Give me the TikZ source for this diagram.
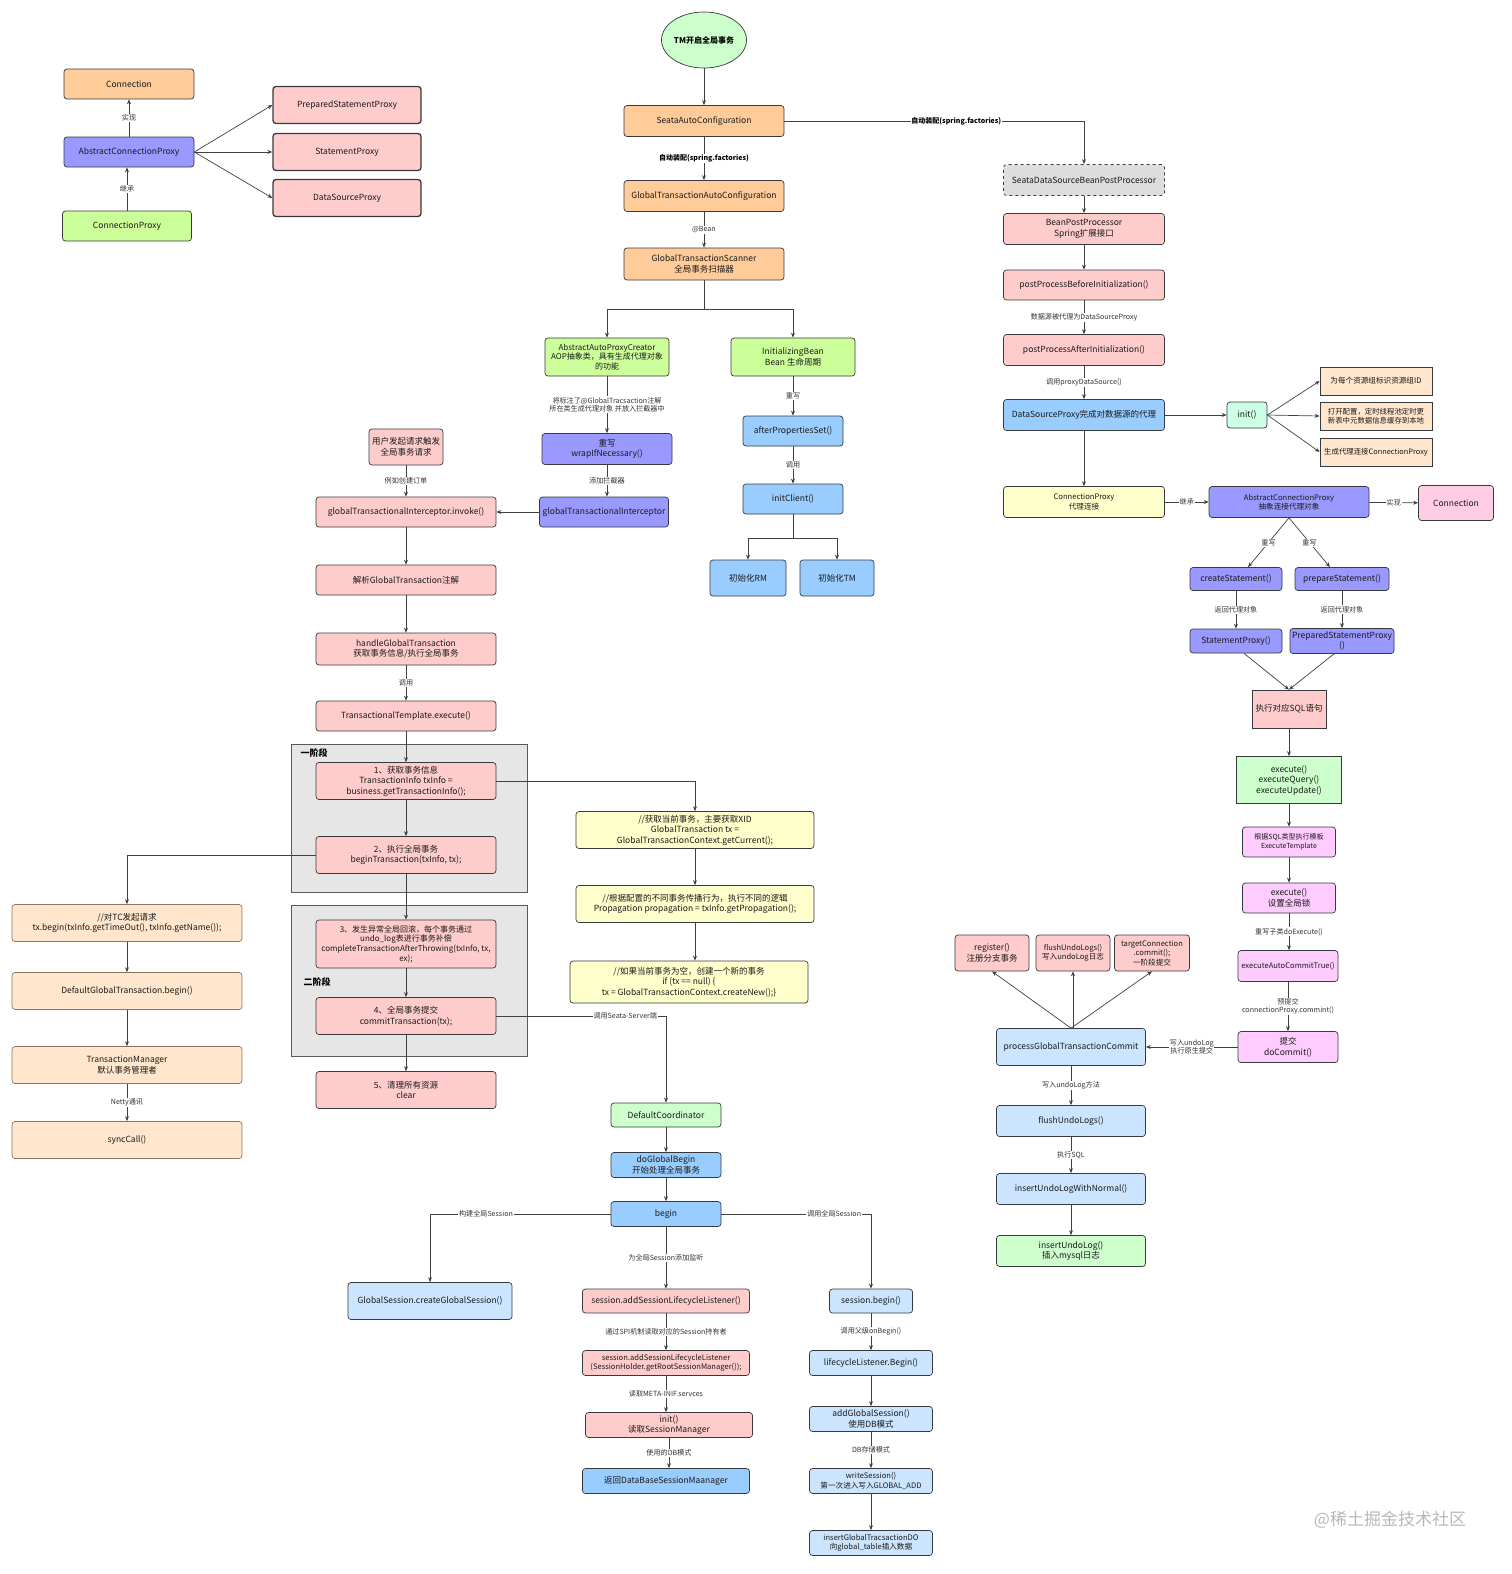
\documentclass[tikz,border=0pt]{standalone}
\usepackage{fontspec}
\setmainfont{Noto Sans CJK SC}
\usetikzlibrary{arrows.meta,shapes.geometric}
\definecolor{cOrange}{HTML}{FFCC99}
\definecolor{cPink}{HTML}{FFCCCC}
\definecolor{cPurple}{HTML}{9999FF}
\definecolor{cLGreen}{HTML}{CCFF99}
\definecolor{cGreen}{HTML}{CCFFCC}
\definecolor{cBlue}{HTML}{99CCFF}
\definecolor{cLBlue}{HTML}{CCE5FF}
\definecolor{cPeach}{HTML}{FFE6CC}
\definecolor{cYellow}{HTML}{FFFFCC}
\definecolor{cMint}{HTML}{CCFFE6}
\definecolor{cMagenta}{HTML}{FFCCFF}
\definecolor{cPinkM}{HTML}{FFCCE6}
\definecolor{cGray}{HTML}{E6E6E6}
\definecolor{cGrayBox}{HTML}{DDDDDD}
\definecolor{cStroke}{HTML}{36393D}
\definecolor{cPeachStroke}{HTML}{8A7560}
\begin{document}
\begin{tikzpicture}[x=1pt,y=-1pt,
  box/.style={draw=cStroke, line width=0.7pt, rounded corners=3pt, align=center, inner sep=0.5pt,
    font=\fontsize{8.5}{10.5}\selectfont, text=black!90},
  sq/.style={box, rounded corners=0pt},
  sz/.style 2 args={minimum width=#1pt, minimum height=#2pt},
  sm/.style={font=\fontsize{7.6}{9.4}\selectfont},
  lbl/.style={fill=white, inner sep=0.8pt, font=\fontsize{7.1}{8.4}\selectfont, align=center, text=black!80},
  blbl/.style={lbl, font=\bfseries\fontsize{7}{8.4}\selectfont, text=black},
  arr/.style={draw=black!75, line width=0.7pt, -{Stealth[length=5pt,width=4pt]}},
  ln/.style={draw=black!75, line width=0.7pt},
  grp/.style={draw=black!65, line width=0.7pt, fill=cGray, anchor=north west, inner sep=0pt},
  glbl/.style={font=\bfseries\fontsize{9}{11}\selectfont, text=black},
]
\useasboundingbox (0,0) rectangle (1512,1574);

% ---------------- top-left ----------------
\node[box, fill=cOrange, sz={130}{30}] (tlConn) at (129,84) {Connection};
\node[box, fill=cPurple, sz={130}{30}] (tlACP) at (129,152) {AbstractConnectionProxy};
\node[box, fill=cLGreen, sz={129}{30}] (tlCP) at (127,226) {ConnectionProxy};
\node[box, fill=cPink, sz={148}{37}, line width=1.3pt] (tlPSP) at (347,105) {PreparedStatementProxy};
\node[box, fill=cPink, sz={148}{37}, line width=1.3pt] (tlSP) at (347,152) {StatementProxy};
\node[box, fill=cPink, sz={148}{37}, line width=1.3pt] (tlDSP) at (347,198) {DataSourceProxy};
\draw[arr] (tlACP.north) -- node[lbl]{实现} (tlConn.south);
\draw[arr] (tlCP.north) -- node[lbl]{继承} (tlCP.north |- tlACP.south);
\draw[arr] (tlACP.east) -- (tlPSP.west);
\draw[arr] (tlACP.east) -- (tlSP.west);
\draw[arr] (tlACP.east) -- (tlDSP.west);

% ---------------- top-center ----------------
\node[ellipse, draw=cStroke, line width=0.7pt, fill=cGreen, minimum width=80pt, minimum height=56pt, inner sep=0pt,
  font=\bfseries\fontsize{8}{10}\selectfont] (tm) at (704,40) {TM开启全局事务};
\node[box, fill=cOrange, sz={160}{31}] (sac) at (704,121) {SeataAutoConfiguration};
\node[box, fill=cOrange, sz={160}{31}] (gtac) at (704,196) {GlobalTransactionAutoConfiguration};
\node[box, fill=cOrange, sz={160}{32}] (gts) at (704,264) {GlobalTransactionScanner\\全局事务扫描器};
\draw[arr] (tm) -- (sac);
\draw[arr] (sac) -- node[blbl]{自动装配(spring.factories)} (gtac);
\draw[arr] (gtac) -- node[lbl]{@Bean} (gts);

\node[box, fill=cLGreen, sz={124}{38}, font=\fontsize{8}{9.8}\selectfont] (aapc) at (607,357) {AbstractAutoProxyCreator\\AOP抽象类，具有生成代理对象\\的功能};
\node[box, fill=cPurple, sz={130}{31}] (wrap) at (607,449) {重写\\wrapIfNecessary()};
\node[box, fill=cPurple, sz={129}{30}] (gti) at (604,512) {globalTransactionalInterceptor};
\node[box, fill=cLGreen, sz={124}{38}] (ib) at (793,357) {InitializingBean\\Bean 生命周期};
\node[box, fill=cBlue, sz={100}{30}] (aps) at (793,431) {afterPropertiesSet()};
\node[box, fill=cBlue, sz={100}{30}] (ic) at (793,499) {initClient()};
\node[box, fill=cBlue, sz={76}{36}] (rm) at (748,578) {初始化RM};
\node[box, fill=cBlue, sz={74}{36}] (tmi) at (837,578) {初始化TM};

\draw[arr] (gts.south) -- ++(0,29) -| (aapc.north);
\draw[arr] (gts.south) -- ++(0,29) -| (ib.north);
\draw[arr] (aapc) -- node[lbl]{将标注了@GlobalTracsaction注解\\所在类生成代理对象 并放入拦截器中} (wrap);
\draw[arr] (wrap.south) -- node[lbl]{添加拦截器} (wrap.south |- gti.north);
\draw[arr] (ib) -- node[lbl]{重写} (aps);
\draw[arr] (aps) -- node[lbl]{调用} (ic);
\draw[arr] (ic.south) -- ++(0,24) -| (rm.north);
\draw[arr] (ic.south) -- ++(0,24) -| (tmi.north);

% ---------------- left main column ----------------
\node[grp, minimum width=236pt, minimum height=148pt] (ph1) at (291,744) {};
\node[grp, minimum width=236pt, minimum height=151pt] (ph2) at (291,905) {};
\node[glbl] (ph1l) at (314,753) {一阶段};
\node[glbl] (ph2l) at (317,982) {二阶段};

\node[box, fill=cPink, sz={74}{36}] (user) at (406,447) {用户发起请求触发\\全局事务请求};
\node[box, fill=cPink, sz={180}{30}] (invoke) at (406,512) {globalTransactionalInterceptor.invoke()};
\node[box, fill=cPink, sz={180}{30}] (parse) at (406,580) {解析GlobalTransaction注解};
\node[box, fill=cPink, sz={180}{32}] (handle) at (406,649) {handleGlobalTransaction\\获取事务信息/执行全局事务};
\node[box, fill=cPink, sz={180}{30}] (tte) at (406,716) {TransactionalTemplate.execute()};
\node[box, fill=cPink, sz={180}{37}] (b1) at (406,781) {1、获取事务信息\\TransactionInfo txInfo =\\business.getTransactionInfo();};
\node[box, fill=cPink, sz={180}{37}] (b2) at (406,855) {2、执行全局事务\\beginTransaction(txInfo, tx);};
\node[box, fill=cPink, sz={180}{48}, font=\fontsize{8}{9.6}\selectfont] (b3) at (406,944) {3、发生异常全局回滚，每个事务通过\\undo\_log表进行事务补偿\\completeTransactionAfterThrowing(txInfo, tx,\\ex);};
\node[box, fill=cPink, sz={180}{37}] (b4) at (406,1016) {4、全局事务提交\\commitTransaction(tx);};
\node[box, fill=cPink, sz={180}{37}] (b5) at (406,1090) {5、清理所有资源\\clear};

\draw[arr] (user) -- node[lbl]{例如创建订单} (invoke);
\draw[arr] (gti.west) -- (invoke.east);
\draw[arr] (invoke) -- (parse);
\draw[arr] (parse) -- (handle);
\draw[arr] (handle) -- node[lbl]{调用} (tte);
\draw[arr] (tte) -- (b1);
\draw[arr] (b1) -- (b2);
\draw[arr] (b2) -- (b3);
\draw[arr] (b3) -- (b4);
\draw[arr] (b4) -- (b5);

% ---------------- far-left peach column ----------------
\node[box, draw=cPeachStroke, fill=cPeach, sz={230}{37}] (tc) at (127,923) {//对TC发起请求\\tx.begin(txInfo.getTimeOut(), txInfo.getName());};
\node[box, draw=cPeachStroke, fill=cPeach, sz={230}{37}] (dgt) at (127,991) {DefaultGlobalTransaction.begin()};
\node[box, draw=cPeachStroke, fill=cPeach, sz={230}{37}] (tmgr) at (127,1065) {TransactionManager\\默认事务管理者};
\node[box, draw=cPeachStroke, fill=cPeach, sz={230}{37}] (sync) at (127,1140) {syncCall()};
\draw[arr] (b2.west) -| (tc.north);
\draw[arr] (tc) -- (dgt);
\draw[arr] (dgt) -- (tmgr);
\draw[arr] (tmgr) -- node[lbl]{Netty通讯} (sync);

% ---------------- yellow column ----------------
\node[box, fill=cYellow, sz={238}{37}] (y1) at (695,830) {//获取当前事务，主要获取XID\\GlobalTransaction tx =\\GlobalTransactionContext.getCurrent();};
\node[box, fill=cYellow, sz={238}{37}] (y2) at (695,904) {//根据配置的不同事务传播行为，执行不同的逻辑\\Propagation propagation = txInfo.getPropagation();};
\node[box, fill=cYellow, sz={238}{42}] (y3) at (689,982) {//如果当前事务为空，创建一个新的事务\\if (tx == null) \{\\tx = GlobalTransactionContext.createNew();\}};
\draw[arr] (b1.east) -| (y1.north);
\draw[arr] (y1) -- (y2);
\draw[arr] (y2.south) -- (y2.south |- y3.north);

% ---------------- server column ----------------
\node[box, fill=cGreen, sz={110}{24}] (dc) at (666,1115) {DefaultCoordinator};
\node[box, fill=cBlue, sz={110}{25}] (dgb) at (666,1165) {doGlobalBegin\\开始处理全局事务};
\node[box, fill=cBlue, sz={110}{25}] (beg) at (666,1214) {begin};
\draw[arr] (b4.east) -| node[lbl, pos=0.38]{调用Seata-Server端} (dc.north);
\draw[arr] (dc) -- (dgb);
\draw[arr] (dgb) -- (beg);

\node[box, fill=cLBlue, sz={164}{37}] (gs) at (430,1301) {GlobalSession.createGlobalSession()};
\node[box, fill=cPink, sz={167}{24}] (asl1) at (666,1301) {session.addSessionLifecycleListener()};
\node[box, fill=cPink, sz={167}{25}, sm] (asl2) at (666,1363) {session.addSessionLifecycleListener\\(SessionHolder.getRootSessionManager());};
\node[box, fill=cPink, sz={167}{25}] (init2) at (669,1425) {init()\\读取SessionManager};
\node[box, fill=cBlue, sz={167}{25}] (ret) at (666,1481) {返回DataBaseSessionMaanager};
\node[box, fill=cLBlue, sz={83}{24}] (sb) at (871,1301) {session.begin()};
\node[box, fill=cLBlue, sz={123}{25}] (llb) at (871,1363) {lifecycleListener.Begin()};
\node[box, fill=cLBlue, sz={123}{25}] (ags) at (871,1419) {addGlobalSession()\\使用DB模式};
\node[box, fill=cLBlue, sz={123}{25}, sm] (ws) at (871,1481) {writeSession()\\第一次进入写入GLOBAL\_ADD};
\node[box, fill=cLBlue, sz={123}{25}, sm] (igt) at (871,1543) {insertGlobalTracsactionDO\\向global\_table插入数据};

\draw[arr] (beg.west) -| node[lbl, pos=0.345]{构建全局Session} (gs.north);
\draw[arr] (beg) -- node[lbl]{为全局Session添加监听} (asl1);
\draw[arr] (asl1) -- node[lbl]{通过SPI机制读取对应的Session持有者} (asl2);
\draw[arr] (asl2.south) -- node[lbl]{读取META-INIF.servces} (asl2.south |- init2.north);
\draw[arr] (init2.south) -- node[lbl]{使用的DB模式} (init2.south |- ret.north);
\draw[arr] (beg.east) -| node[lbl, pos=0.377]{调用全局Session} (sb.north);
\draw[arr] (sb) -- node[lbl]{调用父级onBegin()} (llb);
\draw[arr] (llb) -- (ags);
\draw[arr] (ags) -- node[lbl]{DB存储模式} (ws);
\draw[arr] (ws) -- (igt);

% ---------------- right column ----------------
\node[box, fill=cGrayBox, dashed, sz={161}{31}] (sdbpp) at (1084,180) {SeataDataSourceBeanPostProcessor};
\node[box, fill=cPink, sz={161}{31}] (bpp) at (1084,229) {BeanPostProcessor\\Spring扩展接口};
\node[box, fill=cPink, sz={161}{30}] (ppbi) at (1084,285) {postProcessBeforeInitialization()};
\node[box, fill=cPink, sz={161}{31}] (ppai) at (1084,350) {postProcessAfterInitialization()};
\node[box, fill=cBlue, sz={161}{31}] (dsp) at (1084,415) {DataSourceProxy完成对数据源的代理};
\node[box, fill=cMint, sz={40}{26}] (init1) at (1247,415) {init()};
\node[sq, fill=cPeach, sz={112}{28}, sm] (r1) at (1376,381) {为每个资源组标识资源组ID};
\node[sq, fill=cPeach, sz={112}{28}, font=\fontsize{7.4}{9}\selectfont] (r2) at (1376,416) {打开配置，定时线程池定时更\\新表中元数据信息缓存到本地};
\node[sq, fill=cPeach, sz={112}{28}, font=\fontsize{7.4}{9}\selectfont] (r3) at (1376,452) {生成代理连接ConnectionProxy};
\node[box, fill=cYellow, sz={161}{31}, sm] (cp) at (1084,502) {ConnectionProxy\\代理连接};
\node[box, fill=cPurple, sz={160}{31}, sm] (acp) at (1289,502) {AbstractConnectionProxy\\抽象连接代理对象};
\node[box, fill=cPinkM, sz={75}{35}] (conn2) at (1456,503) {Connection};

\draw[arr] (sac.east) -| node[blbl, pos=0.287]{自动装配(spring.factories)} (sdbpp.north);
\draw[arr] (sdbpp) -- (bpp);
\draw[arr] (bpp) -- (ppbi);
\draw[arr] (ppbi) -- node[lbl]{数据源被代理为DataSourceProxy} (ppai);
\draw[arr] (ppai) -- node[lbl]{调用proxyDataSource()} (dsp);
\draw[arr] (dsp) -- (init1);
\draw[arr] (init1.east) -- (r1.west);
\draw[arr] (init1.east) -- (r2.west);
\draw[arr] (init1.east) -- (r3.west);
\draw[arr] (dsp) -- (cp);
\draw[arr] (cp) -- node[lbl]{继承} (acp);
\draw[arr] (acp) -- node[lbl]{实现} (conn2);

\node[box, fill=cPurple, sz={92}{23}] (cs) at (1236,579) {createStatement()};
\node[box, fill=cPurple, sz={94}{23}] (ps) at (1342,579) {prepareStatement()};
\node[box, fill=cPurple, sz={92}{24}] (spx) at (1236,641) {StatementProxy()};
\node[box, fill=cPurple, sz={104}{25}] (pspx) at (1342,641) {PreparedStatementProxy\\()};
\node[sq, fill=cPink, sz={74}{38}] (sql) at (1289,709) {执行对应SQL语句};
\node[sq, fill=cGreen, sz={105}{47}] (exe) at (1289,780) {execute()\\executeQuery()\\executeUpdate()};
\node[box, fill=cMagenta, sz={93}{30}, font=\fontsize{7}{9}\selectfont] (etpl) at (1289,842) {根据SQL类型执行模板\\ExecuteTemplate};
\node[box, fill=cMagenta, sz={93}{30}] (exe2) at (1289,898) {execute()\\设置全局锁};
\node[box, fill=cMagenta, sz={100}{31}, sm] (eact) at (1288,966) {executeAutoCommitTrue()};
\node[box, fill=cMagenta, sz={100}{31}] (dcm) at (1288,1047) {提交\\doCommit()};

\draw[arr] (acp.south) -- node[lbl]{重写} ([xshift=12pt]cs.north);
\draw[arr] (acp.south) -- node[lbl]{重写} ([xshift=-12pt]ps.north);
\draw[arr] (cs) -- node[lbl]{返回代理对象} (spx);
\draw[arr] (ps) -- node[lbl]{返回代理对象} (pspx);
\draw[arr] ([xshift=8pt]spx.south) -- (sql.north);
\draw[arr] ([xshift=-8pt]pspx.south) -- (sql.north);
\draw[arr] (sql) -- (exe);
\draw[arr] (exe) -- (etpl);
\draw[arr] (etpl) -- (exe2);
\draw[arr] (exe2.south) -- node[lbl]{重写子类doExecute()} (exe2.south |- eact.north);
\draw[arr] (eact) -- node[lbl]{预提交\\connectionProxy.commint()} (dcm);

\node[box, fill=cLBlue, sz={149}{37}] (pgtc) at (1071,1047) {processGlobalTransactionCommit};
\node[box, fill=cPink, sz={74}{36}] (reg) at (992,953) {register()\\注册分支事务};
\node[box, fill=cPink, sz={74}{36}, sm] (fu1) at (1073,953) {flushUndoLogs()\\写入undoLog日志};
\node[box, fill=cPink, sz={75}{36}, sm] (tcc) at (1152,953) {targetConnection\\.commit();\\一阶段提交};
\node[box, fill=cLBlue, sz={149}{31}] (fu2) at (1071,1121) {flushUndoLogs()};
\node[box, fill=cLBlue, sz={149}{31}] (iun) at (1071,1189) {insertUndoLogWithNormal()};
\node[box, fill=cGreen, sz={149}{31}] (iul) at (1071,1251) {insertUndoLog()\\插入mysql日志};

\draw[arr] (dcm) -- node[lbl]{写入undoLog\\执行原生提交} (pgtc);
\draw[arr] (pgtc.north) -- (reg.south);
\draw[arr] (pgtc.north) -- (pgtc.north -| fu1.south) -- (fu1.south);
\draw[arr] (pgtc.north) -- (tcc.south);
\draw[arr] (pgtc) -- node[lbl]{写入undoLog方法} (fu2);
\draw[arr] (fu2) -- node[lbl]{执行SQL} (iun);
\draw[arr] (iun) -- (iul);

% watermark
\node[text=black!28, font=\fontsize{17}{20}\selectfont] (wm) at (1390,1520) {@稀土掘金技术社区};
\end{tikzpicture}
\end{document}
